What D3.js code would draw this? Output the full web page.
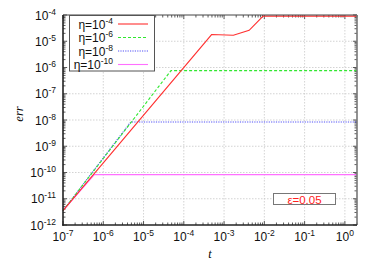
<!DOCTYPE html>
<html><head><meta charset="utf-8">
<script src="https://cdn.jsdelivr.net/npm/d3@7"></script>
<style>body{margin:0;background:#fff}</style>
</head><body>
<svg id="c" width="374" height="262"></svg>
<script>
const seriesNames = ["η=10", "η=10", "η=10", "η=10"];
const seriesExp = ["-4", "-6", "-8", "-10"];
const seriesColors = ["#ff3030", "#30e830", "#5050f5", "#ff70ff"];
const seriesDash = [null, "3,2", "1.2,1.2", null];
// [t, err]
const red = [[1e-7,3.5e-12],[4.9e-4,1.8e-5],[1.7e-3,1.7e-5],[4.2e-3,2.6e-5],[9.3e-3,9.1e-5],[2,9.1e-5]];
const green = [[1e-7,3.5e-12],[4.8e-5,7.6e-7],[2,7.6e-7]];
const blue = [[1e-7,3.5e-12],[4.8e-6,8.4e-9],[2,8.4e-9]];
const pink = [[1e-7,3.5e-12],[6.0e-7,8.3e-11],[2,8.3e-11]];
const seriesData = [red, green, blue, pink];
const xTickExp = [-7,-6,-5,-4,-3,-2,-1,0];
const yTickExp = [-12,-11,-10,-9,-8,-7,-6,-5,-4];
const annotation = "ε=0.05";

const svg = d3.select("#c");
const L=63, R=357, T=15, B=225;
const x = d3.scaleLog().domain([1e-7,2]).range([L,R]);
const y = d3.scaleLog().domain([1e-12,1e-4]).range([B,T]);

// grid
const g = svg.append("g");
xTickExp.forEach(e=>{ const px=x(Math.pow(10,e)); if(px>L+1&&px<R-1)
  g.append("line").attr("x1",px).attr("x2",px).attr("y1",T).attr("y2",B).attr("stroke","#c8c8c8").attr("stroke-width",0.8).attr("stroke-dasharray","1.5,1.5");});
yTickExp.forEach(e=>{ const py=y(Math.pow(10,e)); if(py>T+1&&py<B-1)
  g.append("line").attr("x1",L).attr("x2",R).attr("y1",py).attr("y2",py).attr("stroke","#c8c8c8").attr("stroke-width",0.8).attr("stroke-dasharray","1.5,1.5");});

// ticks (major + minor) on all sides
const tk = svg.append("g").attr("stroke","#333").attr("stroke-width",0.8);
for(let e=-7;e<=0;e++){ for(let m=1;m<10;m++){ const v=m*Math.pow(10,e); if(v>2) break; const px=x(v); const len=m===1?4:2.5;
  tk.append("line").attr("x1",px).attr("x2",px).attr("y1",B).attr("y2",B-len);
  tk.append("line").attr("x1",px).attr("x2",px).attr("y1",T).attr("y2",T+len);}}
for(let e=-12;e<=-4;e++){ for(let m=1;m<10;m++){ const v=m*Math.pow(10,e); if(v>1e-4) break; const py=y(v); const len=m===1?4:2.5;
  tk.append("line").attr("x1",L).attr("x2",L+len).attr("y1",py).attr("y2",py);
  tk.append("line").attr("x1",R).attr("x2",R-len).attr("y1",py).attr("y2",py);}}

// series
const line = d3.line().x(d=>x(d[0])).y(d=>y(d[1]));
[3,2,1,0].forEach(i=>{
  svg.append("path").attr("d",line(seriesData[i])).attr("fill","none")
    .attr("stroke",seriesColors[i]).attr("stroke-width",1.1)
    .attr("stroke-dasharray",seriesDash[i]);
});

// frame
svg.append("line").attr("x1",L).attr("x2",R).attr("y1",T).attr("y2",T).attr("stroke","#444").attr("stroke-width",1);
svg.append("line").attr("x1",R).attr("x2",R).attr("y1",T).attr("y2",B).attr("stroke","#777").attr("stroke-width",1.6);
svg.append("line").attr("x1",L).attr("x2",L).attr("y1",T).attr("y2",B+0.8).attr("stroke","#222").attr("stroke-width",1.6);
svg.append("line").attr("x1",L-0.8).attr("x2",R).attr("y1",B).attr("y2",B).attr("stroke","#222").attr("stroke-width",1.6);

// tick labels
const font="Liberation Sans, Arial, sans-serif";
const FS=12, ES=8.5;
xTickExp.forEach(e=>{
  const t=svg.append("text").attr("x",x(Math.pow(10,e))).attr("y",241).attr("text-anchor","middle")
    .attr("font-family",font).attr("font-size",FS).attr("fill","#111");
  t.append("tspan").text("10");
  t.append("tspan").attr("dy",-5).attr("font-size",ES).text(String(e));
});
yTickExp.forEach(e=>{
  const t=svg.append("text").attr("x",56).attr("y",y(Math.pow(10,e))+4.5).attr("text-anchor","end")
    .attr("font-family",font).attr("font-size",FS).attr("fill","#111");
  t.append("tspan").text("10");
  t.append("tspan").attr("dy",-5).attr("font-size",ES).text(String(e));
});

// axis titles
svg.append("text").attr("x",210).attr("y",258).attr("text-anchor","middle").attr("font-family","Liberation Serif, serif")
  .attr("font-style","italic").attr("font-size",12).text("t");
svg.append("text").attr("transform","translate(23,114) rotate(-90)").attr("text-anchor","middle").attr("font-family","Liberation Serif, serif")
  .attr("font-style","italic").attr("font-size",12.5).text("err");

// legend
const lg = svg.append("g");
lg.append("rect").attr("x",69.5).attr("y",15.5).attr("width",85).attr("height",55.5).attr("fill","#fff").attr("stroke","#555").attr("stroke-width",1);
const rowY=[24,37.5,51,64.5];
seriesNames.forEach((n,i)=>{
  const t=lg.append("text").attr("x",113).attr("y",rowY[i]+4.5).attr("text-anchor","end").attr("font-family",font).attr("font-size",FS).attr("fill","#111");
  t.append("tspan").text(n);
  t.append("tspan").attr("dy",-5).attr("font-size",ES).text(seriesExp[i]);
  lg.append("line").attr("x1",118).attr("x2",148).attr("y1",rowY[i]).attr("y2",rowY[i]).attr("stroke",seriesColors[i]).attr("stroke-width",1.1).attr("stroke-dasharray",seriesDash[i]);
});

// annotation
svg.append("rect").attr("x",273.5).attr("y",193.5).attr("width",62).attr("height",11).attr("fill","#fff").attr("stroke","#777").attr("stroke-width",1);
svg.append("text").attr("x",304.5).attr("y",203.5).attr("text-anchor","middle").attr("font-family",font).attr("font-size",11.5).attr("fill","#ff2020").text(annotation);
</script>
</body></html>
